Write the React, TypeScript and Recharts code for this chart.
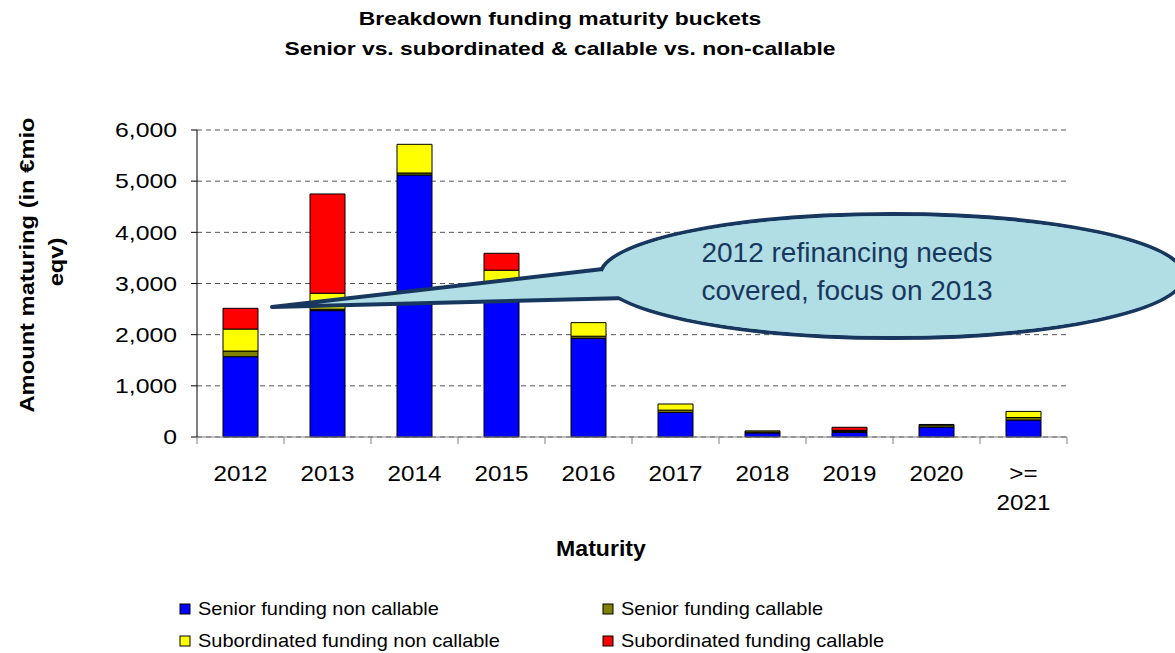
import React from 'react'
import { BarChart, Bar, XAxis, YAxis, CartesianGrid } from 'recharts'

const categories = ['2012', '2013', '2014', '2015', '2016', '2017', '2018', '2019', '2020', '>= 2021']
const seniorNonCallable = [1570, 2470, 5120, 2980, 1930, 480, 80, 90, 195, 330]
const seniorCallable = [110, 30, 40, 30, 40, 45, 20, 20, 40, 50]
const subNonCallable = [430, 310, 560, 250, 265, 120, 20, 20, 10, 120]
const subCallable = [405, 1940, 0, 330, 0, 0, 0, 60, 0, 0]

const seriesKeys = ['snc', 'sc', 'subnc', 'subc']
const seriesNames = [
  'Senior funding non callable',
  'Senior funding callable',
  'Subordinated funding non callable',
  'Subordinated funding callable',
]
const seriesColors = ['#0000FF', '#808000', '#FFFF00', '#FF0000']
const yTicks = [0, 1000, 2000, 3000, 4000, 5000, 6000]

const data = categories.map((name, i) => ({
  name,
  snc: seniorNonCallable[i],
  sc: seniorCallable[i],
  subnc: subNonCallable[i],
  subc: subCallable[i],
}))

const W = 1175
const H = 653
const PLOT_LEFT = 197
const PLOT_RIGHT = 1067
const HALF_BAND = (PLOT_RIGHT - PLOT_LEFT) / categories.length / 2
const FONT = '"Liberation Sans", Arial, sans-serif'

const XTick = (props: any) => {
  const { x, y, payload, index } = props
  const lines = String(payload.value).split(' ')
  const last = index === categories.length - 1
  return (
    <g>
      <line x1={x - HALF_BAND} x2={x - HALF_BAND} y1={y} y2={y + 7} stroke="#808080" />
      {last && <line x1={x + HALF_BAND} x2={x + HALF_BAND} y1={y} y2={y + 7} stroke="#808080" />}
      {lines.map((l, i) => (
        <text
          key={i}
          transform={`translate(${x},${y + 44 + i * 29}) scale(1.1,1)`}
          textAnchor="middle"
          fontSize={22}
          fontFamily={FONT}
          fill="#000"
        >
          {l}
        </text>
      ))}
    </g>
  )
}

const YTick = (props: any) => {
  const { x, y, payload } = props
  return (
    <text
      transform={`translate(${x},${y}) scale(1.24,1)`}
      textAnchor="end"
      dy="0.36em"
      fontSize={20}
      fontFamily={FONT}
      fill="#000"
    >
      {Number(payload.value).toLocaleString('en-US')}
    </text>
  )
}

export default function App() {
  return (
    <div style={{ position: 'absolute', left: 0, top: 0, width: W, height: H, background: '#fff' }}>
      <BarChart
        width={W}
        height={H}
        data={data}
        barSize={35}
        margin={{ top: 130, right: W - PLOT_RIGHT, bottom: 156, left: 0 }}
      >
        <CartesianGrid vertical={false} stroke="#555" strokeDasharray="5 4" />
        <XAxis
          dataKey="name"
          height={60}
          tickLine={false}
          tickSize={0}
          tickMargin={0}
          stroke="#808080"
          tick={<XTick />}
          interval={0}
        />
        <YAxis
          width={PLOT_LEFT}
          domain={[0, 6000]}
          ticks={yTicks}
          stroke="#000"
          tickMargin={14}
          tick={<YTick />}
        />
        {seriesKeys.map((k, i) => (
          <Bar
            key={k}
            dataKey={k}
            name={seriesNames[i]}
            stackId="a"
            fill={seriesColors[i]}
            stroke="#000"
            strokeWidth={1}
            isAnimationActive={false}
          />
        ))}
      </BarChart>

      <svg
        width={W}
        height={H}
        style={{ position: 'absolute', left: 0, top: 0, pointerEvents: 'none' }}
        fontFamily={FONT}
      >
        {/* titles */}
        <text transform="translate(560,25) scale(1.27,1)" textAnchor="middle" fontSize={18} fontWeight="bold">
          Breakdown funding maturity buckets
        </text>
        <text transform="translate(560,55) scale(1.27,1)" textAnchor="middle" fontSize={18} fontWeight="bold">
          Senior vs. subordinated &amp; callable vs. non-callable
        </text>

        {/* axis titles */}
        <text transform="translate(601,556) scale(1.05,1)" textAnchor="middle" fontSize={22} fontWeight="bold">
          Maturity
        </text>
        <text transform="translate(34,265) rotate(-90) scale(1.13,1)" textAnchor="middle" fontSize={21} fontWeight="bold">
          Amount maturing (in €mio
        </text>
        <text transform="translate(63,262) rotate(-90) scale(1.13,1)" textAnchor="middle" fontSize={21} fontWeight="bold">
          eqv)
        </text>

        {/* legend */}
        {seriesNames.map((n, i) => {
          const col = i % 2
          const row = Math.floor(i / 2)
          const mx = col === 0 ? 180 : 603
          const by = row === 0 ? 615 : 647
          return (
            <g key={n}>
              <rect x={mx} y={by - 11} width={10} height={10} fill={seriesColors[i]} stroke="#000" strokeWidth={1} />
              <text transform={`translate(${mx + 18},${by}) scale(1.11,1)`} fontSize={18}>
                {n}
              </text>
            </g>
          )
        })}

        {/* callout */}
        <ellipse cx={892} cy={276} rx={292} ry={62} fill="#B0DEE4" stroke="#17375E" strokeWidth={4} />
        <polygon
          points="272,307 603,269 627,298"
          fill="#B0DEE4"
          stroke="#17375E"
          strokeWidth={4}
          strokeLinejoin="round"
        />
        <ellipse cx={892} cy={276} rx={290} ry={60} fill="#B0DEE4" />
        <text x={847} y={262} textAnchor="middle" fontSize={28} fill="#17375E">
          2012 refinancing needs
        </text>
        <text x={847} y={300} textAnchor="middle" fontSize={28} fill="#17375E">
          covered, focus on 2013
        </text>
      </svg>
    </div>
  )
}
